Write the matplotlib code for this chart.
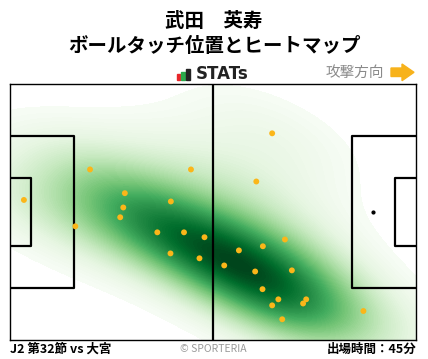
import matplotlib
matplotlib.use("Agg")
import matplotlib.pyplot as plt
import matplotlib.patches as mpatches
import numpy as np
import seaborn as sns

plt.rcParams['font.family'] = ['Noto Sans CJK JP', 'DejaVu Sans']

# Ball touch positions (pitch metres, x: 0-105 attacking right, y: 0-68 from top)
touch_x = [20.7, 46.8, 29.7, 3.6, 41.6, 29.3, 28.5, 16.9, 38.1, 45.0, 50.3, 41.5, 49.0,
           67.8, 63.7, 71.1, 65.4, 59.2, 55.4, 63.4, 72.9, 65.3, 69.4, 76.6, 75.8, 67.8,
           91.4, 70.4]
touch_y = [22.7, 22.7, 29.0, 30.8, 31.2, 32.8, 35.4, 37.8, 39.4, 39.4, 40.7, 45.0, 46.3,
           13.1, 25.9, 41.3, 43.1, 44.2, 48.2, 49.8, 49.5, 54.5, 57.2, 57.2, 58.3, 58.8,
           60.3, 62.5]

title_name = "武田　英寿"
title_sub = "ボールタッチ位置とヒートマップ"
footer_left = "J2 第32節 vs 大宮"
footer_mid = "© SPORTERIA"
footer_right = "出場時間：45分"
direction_label = "攻撃方向"

W, H = 428, 359
fig = plt.figure(figsize=(W / 100, H / 100), dpi=100)
ax = fig.add_axes([10 / W, (H - 340) / H, 406 / W, 256 / H])

sns.kdeplot(x=touch_x, y=touch_y, fill=True, cmap="Greens", levels=100, thresh=0.015,
            bw_adjust=1.35, gridsize=200, clip=((0, 105), (0, 68)), ax=ax, zorder=1)

# Pitch markings
lc = "black"
lw = 1.6
ax.plot([52.5, 52.5], [0, 68], color=lc, lw=lw, zorder=3)
for x0, sgn in [(0, 1), (105, -1)]:
    ax.plot([x0, x0 + sgn * 16.5, x0 + sgn * 16.5, x0], [13.84, 13.84, 54.16, 54.16], color=lc, lw=lw, zorder=3)
    ax.plot([x0, x0 + sgn * 5.5, x0 + sgn * 5.5, x0], [24.84, 24.84, 43.16, 43.16], color=lc, lw=lw, zorder=3)
ax.scatter([94], [34], s=4, color="black", zorder=3)

ax.scatter(touch_x, touch_y, s=18, color="#fbb619", edgecolors="none", zorder=4)

ax.set_xlim(0, 105)
ax.set_ylim(68, 0)
ax.set_xticks([])
ax.set_yticks([])
ax.set_xlabel("")
ax.set_ylabel("")
for s in ax.spines.values():
    s.set_linewidth(1.0)
    s.set_color("black")

# Titles
fig.text(0.5, 1 - 21 / H, title_name, ha="center", va="center", fontsize=14, fontweight="bold")
fig.text(0.5, 1 - 46 / H, title_sub, ha="center", va="center", fontsize=14, fontweight="bold")

# STATs logo
for (x0, x1, y0, y1, c) in [(177, 180.3, 74, 80, "#e8262a"), (181, 184.7, 72.3, 80, "#2aa84a"),
                            (185.7, 190, 68.7, 80, "#222222")]:
    fig.patches.append(mpatches.Rectangle((x0 / W, 1 - y1 / H), (x1 - x0) / W, (y1 - y0) / H,
                                          transform=fig.transFigure, color=c))
fig.text(196 / W, 1 - 74 / H, "STATs", ha="left", va="center", fontsize=12, fontweight="bold",
         family=["DejaVu Sans"], color="#222222")

# attack direction
fig.text(384 / W, 1 - 72.5 / H, direction_label, ha="right", va="center", fontsize=10.5, color="#8a8a8a")
arrow = mpatches.Polygon(
    [(391 / W, 1 - 68 / H), (402 / W, 1 - 68 / H), (402 / W, 1 - 64 / H), (414 / W, 1 - 72.3 / H),
     (402 / W, 1 - 80.7 / H), (402 / W, 1 - 76.5 / H), (391 / W, 1 - 76.5 / H)],
    closed=True, transform=fig.transFigure, color="#f7b21b")
fig.patches.append(arrow)

# footer
fig.text(10 / W, 1 - 349 / H, footer_left, ha="left", va="center", fontsize=9, fontweight="bold")
fig.text(213 / W, 1 - 348.5 / H, footer_mid, ha="center", va="center", fontsize=7.5, color="#9a9a9a")
fig.text(416 / W, 1 - 349 / H, footer_right, ha="right", va="center", fontsize=9, fontweight="bold")

fig.savefig("out.png", dpi=100)
